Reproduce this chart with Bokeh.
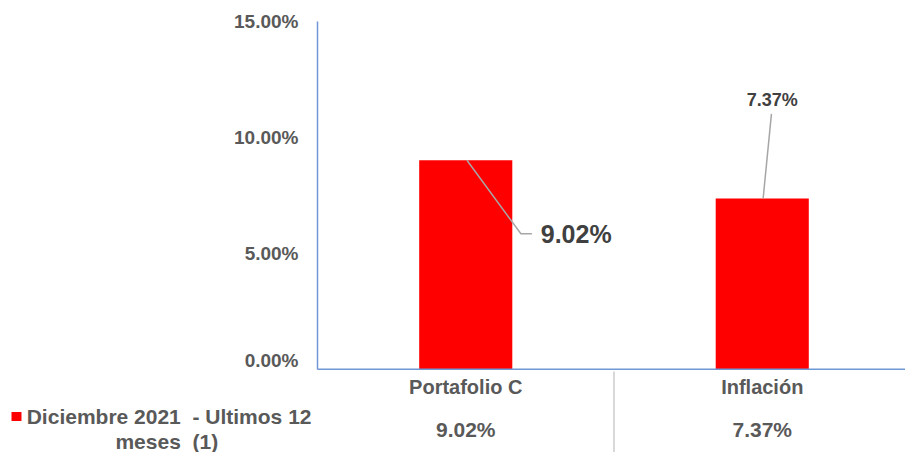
from bokeh.plotting import figure
from bokeh.layouts import column
from bokeh.models import Range1d, FixedTicker, PrintfTickFormatter, LinearAxis
from bokeh.embed import file_html
from bokeh.resources import INLINE
from bokeh.core.properties import value

# ---- data ----
categories = ["Portafolio C", "Inflación"]
values = [9.02, 7.37]
y_ticks = [0, 5, 10, 15]
series_line1 = "Diciembre 2021  - Ultimos 12"
series_line2 = "meses  (1)"

# ---- style / layout constants ----
FONT = "Liberation Sans"
GRAY = "#595959"
DARK = "#404040"
BLUE = "#6F98D6"
RED = "#FF0000"
NBSP = "\u00a0"
W = 905
TOP_H = 370          # chart part height
BOT_H = 82           # data-table part height
FRAME_L = 317        # left edge of plot area
PX_PER_CAT = 296.5   # width of one category slot
KEY_Y = [46, 70.5]   # rows of the series key inside the table strip

xs = [i + 0.5 for i in range(len(categories))]
val_labels = [f"{v:.2f}%" for v in values]
x_range = Range1d(0, (W - FRAME_L) / PX_PER_CAT)


def keep_spaces(s):
    # SVG collapses repeated spaces; keep the visual gap of the original text
    return s.replace("  ", " " + NBSP)


def plain_axis(ax):
    ax.major_tick_line_color = None
    ax.minor_tick_line_color = None
    ax.major_tick_out = 0
    ax.major_tick_in = 0


# ================= chart =================
p = figure(width=W, height=TOP_H, output_backend="svg", toolbar_location=None,
           x_range=x_range, y_range=Range1d(0, 15),
           min_border_left=FRAME_L, min_border_right=0, min_border_top=21,
           min_border_bottom=1)
p.outline_line_color = None
p.xgrid.visible = False
p.ygrid.visible = False

ya = p.yaxis[0]
plain_axis(ya)
ya.ticker = FixedTicker(ticks=y_ticks)
ya.formatter = PrintfTickFormatter(format="%.2f%%")
ya.axis_line_color = BLUE
ya.axis_line_width = 1.5
ya.major_label_standoff = 19
ya.major_label_text_font = FONT
ya.major_label_text_font_size = "19px"
ya.major_label_text_font_style = "bold"
ya.major_label_text_color = GRAY

xa = p.xaxis[0]
plain_axis(xa)
xa.ticker = FixedTicker(ticks=[])
xa.major_label_standoff = 0
xa.axis_line_color = BLUE
xa.axis_line_width = 2

p.vbar(x=xs, top=values, width=0.314, fill_color=RED, line_color=None)

# leader lines for the data labels
p.multi_line(xs=[[xs[0] + 0.004, xs[0] + 0.186, xs[0] + 0.223],
                 [xs[1] + 0.003, xs[1] + 0.031]],
             ys=[[values[0], 5.85, 5.85], [values[1], 11.02]],
             line_color="#A6A6A6", line_width=1.5)

p.text(x=[xs[0] + 0.253], y=[5.85], text=[val_labels[0]],
       text_font=value(FONT), text_font_size="25px", text_font_style="bold",
       text_color=DARK, text_align="left", text_baseline="middle")
p.text(x=[xs[1] + 0.034], y=[11.6], text=[val_labels[1]],
       text_font=value(FONT), text_font_size="18px", text_font_style="bold",
       text_color=DARK, text_align="center", text_baseline="middle")

# ================= data table =================
t = figure(width=W, height=BOT_H, output_backend="svg", toolbar_location=None,
           x_range=x_range, y_range=Range1d(BOT_H, 0),
           min_border_left=FRAME_L, min_border_right=0, min_border_top=0,
           min_border_bottom=0, x_axis_location=None, y_axis_location=None)
t.outline_line_color = None
t.grid.visible = False

# separator between the category columns
sep_x = (xs[0] + xs[1]) / 2
t.segment(x0=[sep_x], y0=[1], x1=[sep_x], y1=[BOT_H], line_color="#D9D9D9",
          line_width=2)

# category names and values row
t.text(x=xs, y=[16.5] * len(xs), text=categories, text_font=value(FONT),
       text_font_size="20px", text_font_style="bold", text_color=GRAY,
       text_align="center", text_baseline="middle")
t.text(x=xs, y=[59] * len(xs), text=val_labels, text_font=value(FONT),
       text_font_size="21px", text_font_style="bold", text_color=GRAY,
       text_align="center", text_baseline="middle")

# series key, in the table strip's left margin
key_text = LinearAxis(ticker=FixedTicker(ticks=KEY_Y),
                      major_label_overrides={
                          KEY_Y[0]: keep_spaces(series_line1),
                          KEY_Y[1]: keep_spaces(series_line2) + NBSP * 16},
                      axis_line_color=None, major_label_standoff=6,
                      major_label_text_font=FONT, major_label_text_font_size="21px",
                      major_label_text_font_style="bold", major_label_text_color=GRAY)
plain_axis(key_text)
t.add_layout(key_text, "left")

key_swatch = LinearAxis(ticker=FixedTicker(ticks=KEY_Y[:1]),
                        major_label_overrides={KEY_Y[0]: ""},
                        axis_line_color=None, major_label_standoff=0,
                        major_label_text_font_size="0px",
                        minor_tick_line_color=None, minor_tick_out=0, minor_tick_in=0,
                        major_tick_line_color=RED, major_tick_line_width=9,
                        major_tick_line_cap="butt", major_tick_out=12, major_tick_in=-2)
t.add_layout(key_swatch, "left")

layout = column(p, t, spacing=0)
open("out.html", "w").write(file_html(layout, INLINE))
